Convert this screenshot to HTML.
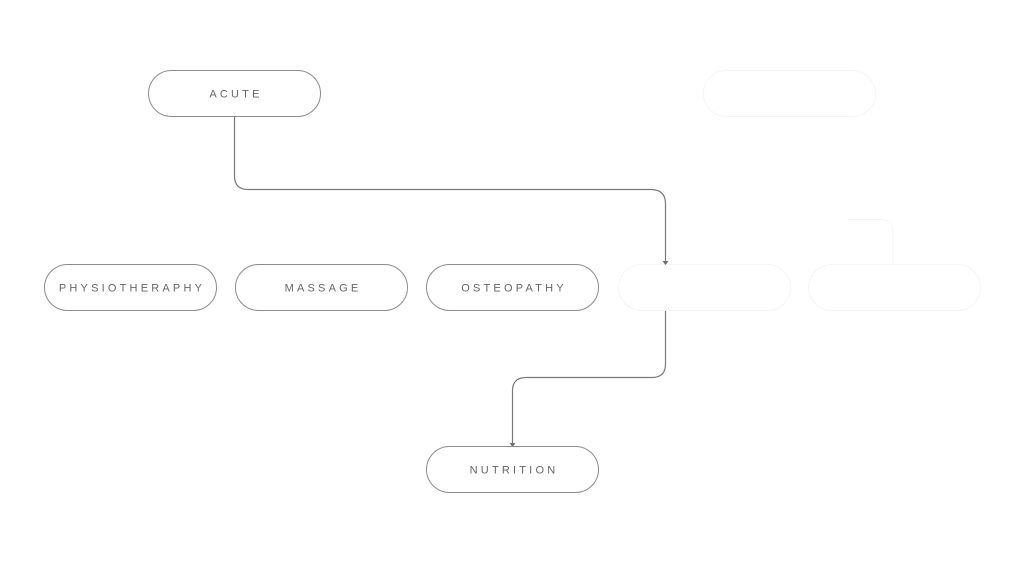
<!DOCTYPE html>
<html>
<head>
<meta charset="utf-8">
<style>
  html, body { margin: 0; padding: 0; background: #ffffff; }
  body { width: 1024px; height: 576px; overflow: hidden; }
  svg { display: block; }
  text {
    font-family: "Liberation Sans", "DejaVu Sans", sans-serif;
    font-size: 11px;
    letter-spacing: 3.2px;
    fill: #666666;
  }
</style>
</head>
<body>
<svg width="1024" height="576" viewBox="0 0 1024 576" xmlns="http://www.w3.org/2000/svg">
  <!-- faint (nearly invisible) nodes on the right -->
  <g fill="none" stroke="#f5f5f5" stroke-width="1">
    <rect x="703.5" y="70.5" width="172" height="46" rx="23" ry="23"/>
    <rect x="618.5" y="264.5" width="172" height="46" rx="23" ry="23"/>
    <rect x="808.5" y="264.5" width="172" height="46" rx="23" ry="23"/>
    <path d="M848 219.5 H880 Q893 219.5 893 232 V264"/>
  </g>

  <!-- connectors -->
  <g fill="none" stroke="#7a7a7a" stroke-width="1.2">
    <path d="M234.5 117 V176 Q234.5 189.5 248 189.5 H651 Q665.5 189.5 665.5 204 V262"/>
    <path d="M665.5 311 V364 Q665.5 377.5 652 377.5 H526 Q512.5 377.5 512.5 391 V444"/>
  </g>
  <!-- arrowheads -->
  <g fill="#6e6e6e">
    <path d="M662.5 261 L668.5 261 L665.5 265 Z"/>
    <path d="M509.5 443 L515.5 443 L512.5 447 Z"/>
  </g>

  <!-- nodes -->
  <g fill="#ffffff" stroke="#8c8c8c" stroke-width="1">
    <rect x="148.5" y="70.5" width="172" height="46" rx="23" ry="23"/>
    <rect x="44.5" y="264.5" width="172" height="46" rx="23" ry="23"/>
    <rect x="235.5" y="264.5" width="172" height="46" rx="23" ry="23"/>
    <rect x="426.5" y="264.5" width="172" height="46" rx="23" ry="23"/>
    <rect x="426.5" y="446.5" width="172" height="46" rx="23" ry="23"/>
  </g>

  <!-- labels -->
  <g text-anchor="middle">
    <text x="236" y="97.5">ACUTE</text>
    <text x="132" y="291.5">PHYSIOTHERAPHY</text>
    <text x="323" y="291.5">MASSAGE</text>
    <text x="514" y="291.5">OSTEOPATHY</text>
    <text x="514" y="473.5">NUTRITION</text>
  </g>
</svg>
</body>
</html>
